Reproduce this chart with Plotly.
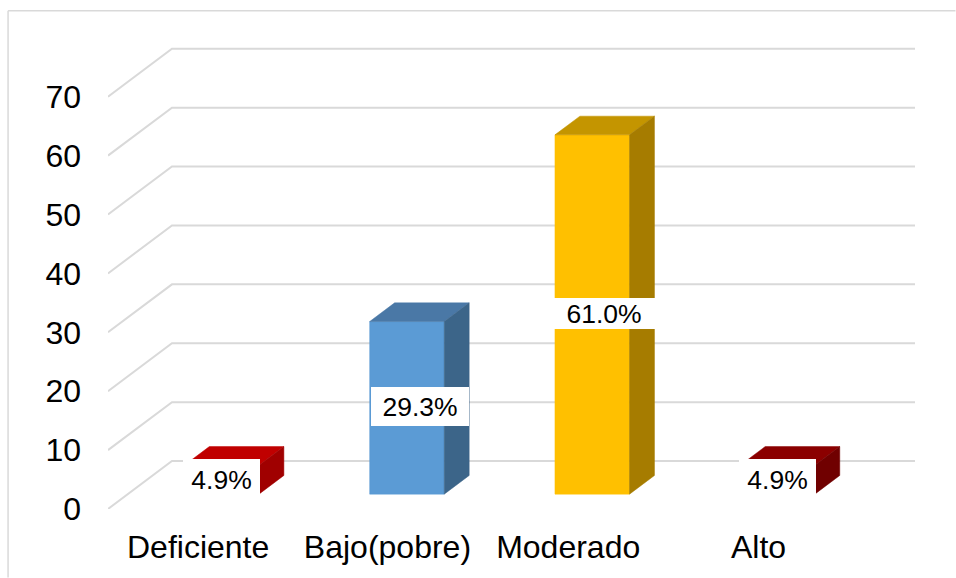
import plotly.graph_objects as go

# ---- data ----
categories = ["Deficiente", "Bajo(pobre)", "Moderado", "Alto"]
values = [4.9, 29.3, 61.0, 4.9]
labels = ["4.9%", "29.3%", "61.0%", "4.9%"]
y_ticks = [0, 10, 20, 30, 40, 50, 60, 70]

# ---- style ----
front_colors = ["#C00000", "#5B9BD5", "#FFC000", "#8B0000"]
top_colors = ["#C00000", "#4A78A6", "#C49500", "#8B0000"]
side_colors = ["#A00000", "#3C6589", "#A67C00", "#700000"]
label_w = [77, 98, 102, 77]
label_h = [42, 39, 31, 42]
label_dx = [0, 13, 12, 0]
label_dy = [0, 1.5, 1.5, 0]
tick_nudge = [-2.5, 1.5, -3, 2]

W, H = 956, 578
L, R, T, B = 108, 915.5, 40, 509.5
PX_X = 185.4
PX_Y = 5.896
DEPTH_X = 64 / PX_X      # oblique projection: depth 1 in x units
DEPTH_Y = 48 / PX_Y      # depth 1 in value units
D0, D1 = 0.31, 0.70      # bar depth span
BAR_SHIFT = 1.2 / PX_X
HALF = 37.3 / PX_X
GRID = "#D9D9D9"


def px(x, d):
    return x + d * DEPTH_X


def py(v, d):
    return v + d * DEPTH_Y


fig = go.Figure()


def poly(pts, color):
    fig.add_trace(go.Scatter(
        x=[p[0] for p in pts] + [pts[0][0]],
        y=[p[1] for p in pts] + [pts[0][1]],
        mode="lines", fill="toself", fillcolor=color,
        line=dict(color=color, width=0.5),
        hoverinfo="skip", showlegend=False, cliponaxis=False))


x0 = -0.5
x_end = x0 + (R - L) / PX_X
for v in y_ticks:
    fig.add_trace(go.Scatter(
        x=[x0, px(x0, 1), x_end],
        y=[py(v, 0), py(v, 1), py(v, 1)],
        mode="lines", line=dict(color=GRID, width=2),
        hoverinfo="skip", showlegend=False, cliponaxis=False))

annotations = []
for i, v in enumerate(values):
    xc = i + BAR_SHIFT
    xl, xr = xc - HALF, xc + HALF
    poly([(px(xl, D0), py(0, D0)), (px(xr, D0), py(0, D0)),
          (px(xr, D0), py(v, D0)), (px(xl, D0), py(v, D0))], front_colors[i])
    poly([(px(xl, D0), py(v, D0)), (px(xr, D0), py(v, D0)),
          (px(xr, D1), py(v, D1)), (px(xl, D1), py(v, D1))], top_colors[i])
    poly([(px(xr, D0), py(0, D0)), (px(xr, D1), py(0, D1)),
          (px(xr, D1), py(v, D1)), (px(xr, D0), py(v, D0))], side_colors[i])
    annotations.append(dict(
        x=px(xc, D0), y=py(v / 2, D0), xref="x", yref="y",
        text=labels[i], showarrow=False, bgcolor="white",
        width=label_w[i], height=label_h[i], borderpad=0, borderwidth=0,
        xshift=label_dx[i], yshift=label_dy[i], align="center", valign="middle",
        font=dict(family="Liberation Sans", size=26.5, color="#000000")))

border = dict(color=GRID, width=1.5)
shapes = [
    dict(type="line", xref="paper", yref="paper",
         x0=(8 - L) / (R - L), x1=(8 - L) / (R - L),
         y0=(B - H) / (B - T), y1=(B - 10.7) / (B - T), line=border, layer="below"),
    dict(type="line", xref="paper", yref="paper",
         x0=(8 - L) / (R - L), x1=(W - L) / (R - L),
         y0=(B - 10.7) / (B - T), y1=(B - 10.7) / (B - T), line=border, layer="below"),
]

fig.update_layout(
    width=W, height=H, autosize=False,
    margin=dict(l=L, r=W - R, t=T, b=H - B, pad=0),
    paper_bgcolor="white", plot_bgcolor="white",
    showlegend=False, annotations=annotations, shapes=shapes,
    font=dict(family="Liberation Sans", color="#000000"),
    xaxis=dict(range=[x0, x_end], tickmode="array",
               tickvals=[i + n / PX_X for i, n in enumerate(tick_nudge)], ticktext=categories,
               showgrid=False, zeroline=False, showline=False, ticks="",
               ticklabelstandoff=16, tickfont=dict(size=32, family="Liberation Sans", color="#000000")),
    yaxis=dict(range=[0, (B - T) / PX_Y], tickmode="array",
               tickvals=y_ticks, ticktext=[str(t) for t in y_ticks],
               showgrid=False, zeroline=False, showline=False, ticks="",
               ticklabelstandoff=26, tickfont=dict(size=32, family="Liberation Sans", color="#000000")),
)

fig.write_html("out.html", config=dict(displayModeBar=False),
               post_script="document.body.style.margin='0';document.documentElement.style.overflow='hidden';")
